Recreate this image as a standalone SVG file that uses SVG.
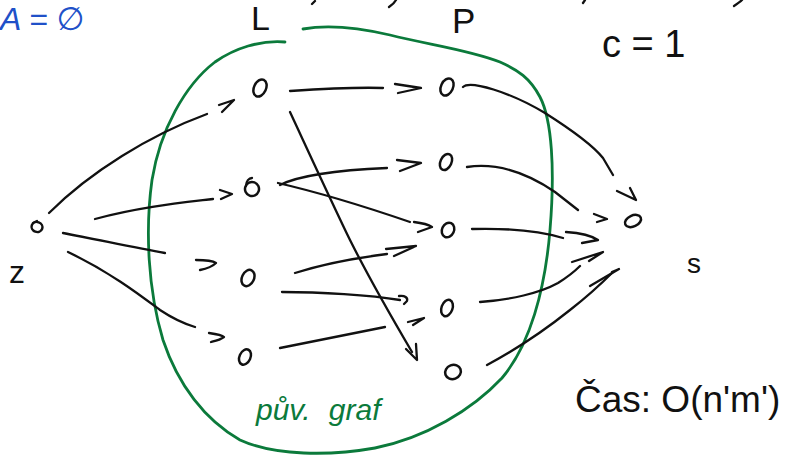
<svg xmlns="http://www.w3.org/2000/svg" width="800" height="456" viewBox="0 0 800 456">
<style>
.bg{fill:#ffffff}
.ink{fill:none;stroke:#111;stroke-width:2.3;stroke-linecap:round;stroke-linejoin:round}
.node{fill:none;stroke:#111;stroke-width:2.5}
.set{fill:none;stroke:#0b7a3b;stroke-width:2.8;stroke-linecap:round}
.t{font-family:"Liberation Sans","DejaVu Sans",sans-serif;fill:#111}
.g{font-family:"Liberation Sans","DejaVu Sans",sans-serif;fill:#0b7a3b;font-style:italic}
.b{font-family:"Liberation Sans","DejaVu Sans",sans-serif;fill:#2050c8;font-style:italic}
</style>
<rect class="bg" x="0" y="0" width="800" height="456"/>

<g id="original-graph-boundary">
<path class="set" d="M285,42 C260,40 235,48 215,62 C185,85 160,130 152,180 C145,230 148,290 163,340 C178,385 205,420 240,440 C275,456 330,456 375,448 C425,438 472,410 502,378 C530,345 545,290 550,230 C555,170 552,120 540,97 C530,78 518,70 500,62 C470,50 430,45 390,35 C360,28 330,24 303,29"/>
</g>

<g id="connectors">
<!-- z -> L -->
<path class="ink" d="M49,213 C90,172 150,135 207,114"/>
<path class="ink" d="M219,105 L234,100 L222,112"/>
<path class="ink" d="M95,219 C140,207 180,203 213,199"/>
<path class="ink" d="M220,190 L232,194 L221,199"/>
<path class="ink" d="M63,233 C100,240 135,248 165,253"/>
<path class="ink" d="M196,260 C205,260 213,261 216,263 C212,267 205,269 200,270"/>
<path class="ink" d="M68,252 C110,272 140,295 160,310 C172,318 185,324 195,327"/>
<path class="ink" d="M209,333 C216,334 222,335 224,337 C220,340 215,341 211,342"/>
<!-- L -> P -->
<path class="ink" d="M290,91 C320,89 355,87 383,88"/>
<path class="ink" d="M395,84 L421,88 L398,93"/>
<path class="ink" d="M290,112 C310,155 333,205 350,240 C370,280 392,318 412,352"/>
<path class="ink" d="M406,349 L417,360 L416,344"/>
<path class="ink" d="M280,185 C300,175 340,170 387,168"/>
<path class="ink" d="M397,160 L421,163 L400,171"/>
<path class="ink" d="M278,183 C330,195 375,210 410,222"/>
<path class="ink" d="M414,222 C422,223 429,225 432,227 L418,232"/>
<path class="ink" d="M295,273 C320,265 355,258 387,254"/>
<path class="ink" d="M386,249 L416,246 L394,256"/>
<path class="ink" d="M282,292 C320,292 370,295 400,300"/>
<path class="ink" d="M399,296 C405,295 408,298 407,301 L404,304"/>
<path class="ink" d="M280,348 C320,340 355,333 385,327"/>
<path class="ink" d="M408,322 L424,318 L413,325"/>
<!-- P -> s -->
<path class="ink" d="M463,87 C470,80 510,92 545,113 C575,132 595,148 603,158 L613,175"/>
<path class="ink" d="M617,191 L636,200 L630,188"/>
<path class="ink" d="M467,167 C500,162 530,175 555,192 L578,210"/>
<path class="ink" d="M594,214 L607,219 L597,222"/>
<path class="ink" d="M472,229 C510,228 540,231 563,238"/>
<path class="ink" d="M566,232 C580,233 592,236 598,240 L582,243"/>
<path class="ink" d="M480,302 C510,300 540,293 558,283 C566,278 574,272 580,266"/>
<path class="ink" d="M572,262 L603,252 L589,261"/>
<path class="ink" d="M487,365 C515,350 545,330 570,310 C588,296 602,283 613,272"/>
<path class="ink" d="M590,286 L619,269 L612,272"/>
</g>

<g id="node-z"><ellipse class="node" cx="37" cy="227" rx="5.5" ry="5" transform="rotate(20 37 227)"/><path class="ink" d="M33,223 L37,221"/></g>
<g id="node-L1"><ellipse class="node" cx="260" cy="88" rx="6" ry="9" transform="rotate(25 260 88)"/></g>
<g id="node-L2"><ellipse class="node" cx="252" cy="189" rx="7" ry="7" transform="rotate(20 252 189)"/><path class="ink" d="M246,186 C246,181 249,178 252,178"/></g>
<g id="node-L3"><ellipse class="node" cx="248" cy="278" rx="6" ry="8.5" transform="rotate(25 248 278)"/></g>
<g id="node-L4"><ellipse class="node" cx="245" cy="357" rx="5.5" ry="8" transform="rotate(25 245 357)"/></g>
<g id="node-P1"><ellipse class="node" cx="447" cy="87" rx="6" ry="9" transform="rotate(25 447 87)"/></g>
<g id="node-P2"><ellipse class="node" cx="446" cy="162" rx="5.5" ry="8.5" transform="rotate(25 446 162)"/></g>
<g id="node-P3"><ellipse class="node" cx="448" cy="230" rx="6" ry="7.5" transform="rotate(25 448 230)"/></g>
<g id="node-P4"><ellipse class="node" cx="447" cy="308" rx="5.5" ry="8.5" transform="rotate(20 447 308)"/></g>
<g id="node-P5"><ellipse class="node" cx="453" cy="372" rx="8" ry="7" transform="rotate(-20 453 372)"/></g>
<g id="node-s"><ellipse class="node" cx="633" cy="221" rx="8.5" ry="5.5" transform="rotate(-25 633 221)"/></g>

<g id="labels">
<text class="b" x="0" y="30" font-size="32">A = ∅</text>
<text class="t" x="251" y="30" font-size="34">L</text>
<text class="t" x="452" y="33" font-size="35">P</text>
<text class="t" x="602" y="57" font-size="38">c = 1</text>
<text class="t" x="9" y="283" font-size="32">z</text>
<text class="t" x="687" y="273" font-size="28">s</text>
<text class="t" x="575" y="412" font-size="37">Čas: O(n'm')</text>
<text class="g" x="256" y="420" font-size="30" word-spacing="10">pův. graf</text>
</g>

<g id="cut-strokes">
<path class="ink" d="M312,4 L315,1"/>
<path class="ink" d="M389,7 C392,5 395,2 396,0"/>
<path class="ink" d="M583,3 L585,0"/>
<path class="ink" d="M734,6 C737,4 740,2 742,0"/>
</g>
</svg>
